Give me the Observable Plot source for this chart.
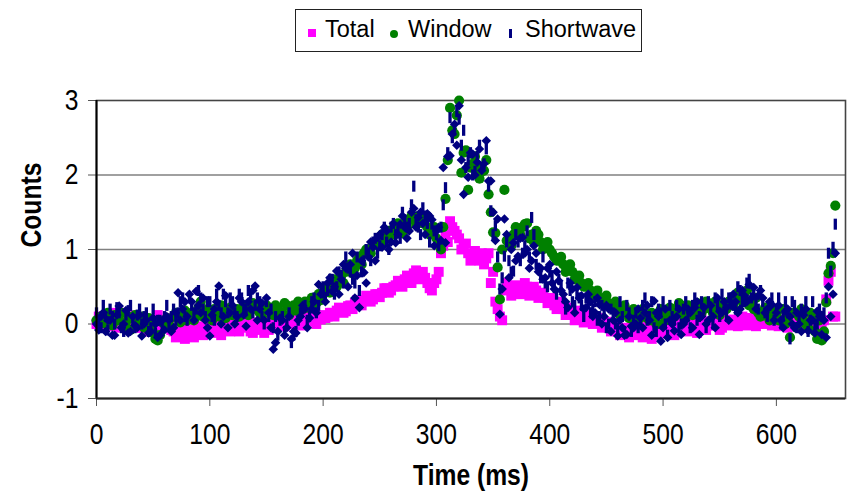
<!DOCTYPE html>
<html>
<head>
<meta charset="utf-8">
<script src="https://cdn.jsdelivr.net/npm/d3@7"></script>
<script src="https://cdn.jsdelivr.net/npm/@observablehq/plot@0.6"></script>
<style>
  html, body { margin: 0; padding: 0; background: #fff; }
  #chart { position: relative; width: 848px; height: 494px; font-family: "Liberation Sans", Arial, sans-serif; }
  #chart svg { display: block; }
  #chart g[aria-label="x-axis tick"], #chart g[aria-label="y-axis tick"] { stroke: #555; }
  .legend-box { position: absolute; left: 295px; top: 9px; width: 347px; height: 43px; box-sizing: border-box; border: 1px solid #222; }
  .key { position: absolute; }
  .key-label { position: absolute; top: 17px; font-size: 23.5px; line-height: 24px; color: #000; white-space: nowrap; }
</style>
</head>
<body>
<div id="chart">
  <div class="legend-box"></div>
  <div class="key" style="left:308px;top:29px;width:8px;height:8px;background:#ff00ff;"></div>
  <div class="key-label" style="left:325px;">Total</div>
  <div class="key" style="left:390px;top:29.5px;width:8px;height:8px;border-radius:50%;background:#008000;"></div>
  <div class="key-label" style="left:408px;">Window</div>
  <div class="key" style="left:509px;top:29px;width:3px;height:9px;background:#000080;"></div>
  <div class="key-label" style="left:525px;">Shortwave</div>
</div>
<script>
// Sample times (ms): samples every 2 ms, stored as two interleaved grids
const time = d3.range(0, 653, 4);     // 0, 4, 8, ... 652
const timeMid = d3.range(2, 651, 4);  // 2, 6, 10, ... 650

// Total counts at `time`
const total = [
  0.0, 0.05, 0.02, -0.03, 0.05, 0.1, 0.08, 0.12, 0.05, 0.0,
  -0.05, 0.02, -0.08, -0.05, 0.0, 0.05, 0.08, -0.1, -0.15, -0.12,
  -0.15, -0.1, -0.12, -0.05, -0.08, -0.02, -0.1, 0.0, -0.05, -0.03,
  -0.08, 0.0, 0.03, -0.05, -0.1, -0.05, 0.0, -0.12, -0.08, 0.02,
  0.05, 0.0, 0.03, 0.06, 0.02, 0.05, 0.1, 0.04, 0.08, 0.1,
  0.12, 0.1, 0.15, 0.18, 0.2, 0.17, 0.25, 0.28, 0.3, 0.32,
  0.35, 0.33, 0.4, 0.42, 0.48, 0.45, 0.52, 0.55, 0.6, 0.62,
  0.68, 0.65, 0.7, 0.55, 0.45, 0.6, 0.95, 1.2, 1.38, 1.25,
  1.15, 1.05, 0.95, 0.9, 0.92, 0.95, 0.88, 0.55, 0.3, 0.1,
  0.45, 0.5, 0.42, 0.48, 0.45, 0.5, 0.42, 0.45, 0.38, 0.35,
  0.3, 0.25, 0.22, 0.2, 0.15, 0.12, 0.1, 0.08, 0.05, 0.08,
  0.02, 0.05, -0.02, -0.05, -0.08, -0.05, -0.12, -0.08, -0.1, -0.15,
  -0.1, -0.05, -0.12, -0.08, -0.15, -0.05, -0.1, -0.02, 0.0, -0.05,
  0.02, -0.08, -0.03, 0.0, -0.05, 0.03, -0.02, 0.05, -0.05, 0.02,
  0.0, 0.05, 0.02, 0.08, 0.03, 0.05, 0.0, 0.06, 0.02, -0.02,
  0.03, 0.0, 0.05, -0.02, 0.02, 0.05, 0.0, -0.03, 0.05, 0.02,
  0.02, 0.33, 0.7, 0.1
];
// Total counts at `timeMid`
const totalMid = [
  0.1, -0.02, 0.08, 0.15, -0.05, 0.02, 0.15, 0.0, 0.1, -0.05,
  0.08, -0.1, 0.0, 0.12, -0.05, -0.02, -0.08, -0.18, -0.05, -0.2,
  -0.08, -0.18, -0.03, -0.15, 0.02, -0.12, -0.05, -0.15, 0.03, -0.1,
  0.02, -0.1, -0.02, 0.05, -0.12, 0.02, -0.08, -0.03, 0.05, -0.02,
  0.08, -0.03, 0.08, 0.0, 0.1, -0.02, 0.03, 0.12, 0.0, 0.06,
  0.08, 0.15, 0.1, 0.22, 0.15, 0.24, 0.2, 0.32, 0.25, 0.38,
  0.3, 0.4, 0.36, 0.48, 0.42, 0.5, 0.58, 0.5, 0.65, 0.55,
  0.72, 0.6, 0.62, 0.48, 0.55, 0.7, 1.05, 1.1, 1.3, 1.2,
  1.0, 1.08, 0.85, 0.98, 0.85, 0.8, 0.95, 0.7, 0.2, 0.05,
  0.55, 0.38, 0.52, 0.4, 0.55, 0.38, 0.5, 0.35, 0.42, 0.28,
  0.35, 0.2, 0.3, 0.12, 0.22, 0.05, 0.18, 0.02, 0.12, 0.0,
  0.08, -0.05, 0.03, -0.1, 0.0, -0.15, -0.05, -0.18, -0.02, -0.12,
  -0.18, -0.02, -0.2, -0.1, -0.03, -0.12, -0.05, -0.15, -0.08, 0.02,
  -0.1, 0.03, -0.12, 0.06, -0.08, -0.02, 0.08, -0.08, 0.05, -0.02,
  0.06, -0.03, 0.1, -0.02, 0.08, -0.03, 0.1, 0.0, 0.06, 0.03,
  -0.03, 0.06, -0.05, 0.05, 0.0, -0.05, 0.06, 0.02, -0.02, 0.05,
  0.05, 0.58, 0.1
];

// Window counts at `time`
const windowCounts = [
  0.05, 0.1, 0.0, 0.08, 0.12, 0.05, -0.05, 0.1, 0.08, 0.02,
  0.1, 0.05, -0.02, -0.2, -0.15, 0.0, 0.05, 0.1, 0.08, 0.12,
  0.05, 0.15, 0.1, 0.3, 0.15, 0.12, 0.2, 0.1, 0.15, 0.18,
  0.12, 0.2, 0.15, 0.22, 0.18, 0.25, 0.15, 0.2, 0.22, 0.12,
  0.2, 0.15, 0.25, 0.2, 0.18, 0.22, 0.3, 0.25, 0.35, 0.4,
  0.4, 0.5, 0.55, 0.5, 0.65, 0.7, 0.8, 0.75, 0.9, 0.95,
  1.0, 1.05, 1.1, 1.2, 1.15, 1.25, 1.3, 1.28, 1.35, 1.4,
  1.4, 1.45, 1.35, 1.3, 1.25, 1.15, 1.0, 1.68, 2.9, 2.55,
  3.0, 2.3, 1.8, 2.15, 2.1, 2.05, 2.2, 1.5, 1.22, 0.33,
  1.8, 1.1, 1.2, 1.25, 1.3, 1.35, 1.2, 1.25, 1.1, 1.05,
  1.0, 0.9, 0.85, 0.8, 0.75, 0.7, 0.6, 0.55, 0.5, 0.45,
  0.4, 0.35, 0.3, 0.28, 0.22, 0.2, 0.15, 0.18, 0.12, 0.1,
  0.15, 0.1, 0.05, 0.12, 0.0, 0.15, 0.1, 0.2, 0.15, 0.25,
  0.18, 0.22, 0.15, 0.25, 0.2, 0.28, 0.15, 0.22, 0.25, 0.2,
  0.3, 0.35, 0.4, 0.32, 0.25, 0.2, 0.15, 0.12, 0.2, 0.1,
  0.12, 0.05, 0.0, -0.18, 0.15, 0.1, 0.05, -0.05, 0.1, -0.2,
  -0.22, 0.29, 0.78, 1.59
];
// Window counts at `timeMid`
const windowMid = [
  0.0, 0.12, 0.15, -0.02, 0.05, 0.15, 0.02, -0.08, 0.12, 0.05,
  -0.05, 0.08, -0.12, -0.22, 0.02, 0.08, -0.05, 0.15, 0.02, 0.18,
  0.12, 0.05, 0.22, 0.1, 0.2, 0.05, 0.15, 0.25, 0.08, 0.22,
  0.18, 0.1, 0.25, 0.12, 0.28, 0.2, 0.1, 0.25, 0.18, 0.25,
  0.15, 0.28, 0.12, 0.25, 0.3, 0.2, 0.22, 0.35, 0.28, 0.32,
  0.45, 0.42, 0.6, 0.58, 0.55, 0.75, 0.68, 0.85, 0.8, 1.0,
  0.95, 1.1, 1.05, 1.12, 1.25, 1.2, 1.35, 1.22, 1.3, 1.45,
  1.35, 1.4, 1.45, 1.2, 1.3, 1.1, 1.3, 2.2, 2.6, 2.8,
  2.03, 2.33, 2.1, 2.25, 1.95, 2.06, 1.74, 1.23, 0.76, 1.0,
  1.12, 1.05, 1.3, 1.2, 1.34, 1.15, 1.1, 1.2, 1.0, 1.1,
  0.95, 0.85, 0.9, 0.7, 0.8, 0.6, 0.65, 0.5, 0.55, 0.38,
  0.45, 0.3, 0.38, 0.22, 0.3, 0.12, 0.25, 0.08, 0.2, 0.05,
  0.2, 0.08, 0.15, 0.0, 0.2, 0.05, 0.22, 0.1, 0.28, 0.12,
  0.25, 0.12, 0.28, 0.15, 0.3, 0.2, 0.3, 0.12, 0.28, 0.3,
  0.25, 0.42, 0.3, 0.45, 0.3, 0.35, 0.1, 0.22, 0.05, 0.18,
  0.05, 0.2, 0.08, 0.15, -0.05, 0.2, 0.0, 0.15, -0.1, 0.05,
  -0.1, 0.68, 0.95
];

// Shortwave counts at `time`, diamond markers
const shortwaveDiamond = [
  0.0, 0.1, -0.1, 0.05, -0.15, 0.24, 0.0, -0.12, 0.1, -0.05,
  -0.16, 0.05, -0.1, 0.0, -0.15, -0.08, 0.05, -0.05, 0.42, 0.2,
  0.1, 0.3, 0.44, 0.15, 0.05, -0.16, 0.2, 0.51, 0.1, -0.05,
  0.25, 0.1, 0.3, -0.03, 0.2, 0.51, 0.2, 0.05, 0.15, -0.34,
  -0.1, 0.05, -0.05, -0.2, -0.12, 0.1, 0.2, 0.08, 0.3, 0.53,
  0.4, 0.55, 0.44, 0.71, 0.6, 0.75, 0.8, 0.35, 0.22, 0.69,
  0.9, 1.03, 1.16, 1.03, 1.25, 1.1, 1.09, 1.34, 1.3, 1.25,
  1.55, 1.43, 1.35, 1.48, 1.4, 1.25, 1.12, 1.09, 2.26, 2.68,
  2.93, 1.74, 1.97, 2.28, 2.17, 2.06, 2.46, 1.92, 1.12, 0.13,
  1.41, 0.62, 1.09, 0.91, 1.16, 1.0, 0.85, 0.95, 0.75, 0.62,
  0.8, 0.47, 0.58, 0.4, 0.22, 0.47, 0.49, 0.38, 0.22, 0.3,
  0.15, 0.26, 0.1, 0.2, 0.05, -0.16, -0.05, -0.14, -0.03, 0.0,
  0.08, 0.15, 0.05, 0.31, 0.1, -0.05, -0.18, 0.0, 0.1, -0.14,
  0.05, 0.15, 0.22, -0.14, 0.22, 0.05, 0.1, 0.35, 0.15, 0.22,
  0.25, 0.3, 0.2, 0.38, 0.53, 0.49, 0.38, 0.35, 0.2, 0.26,
  0.15, 0.05, 0.17, 0.1, -0.05, 0.0, 0.12, -0.09, 0.05, 0.17,
  -0.14, -0.18, 0.1, 0.95
];
// Shortwave counts at `timeMid`, diamond markers
const shortwaveDiamondMid = [
  -0.08, 0.15, 0.05, -0.15, 0.12, -0.05, 0.18, -0.1, -0.02, 0.12,
  0.0, -0.12, 0.08, -0.18, 0.05, 0.1, -0.1, 0.15, 0.05, 0.3,
  0.4, 0.05, 0.25, 0.35, -0.05, 0.12, 0.3, 0.0, 0.38, 0.15,
  0.0, 0.35, 0.12, 0.3, 0.45, 0.05, 0.28, 0.35, -0.05, -0.25,
  0.08, -0.15, 0.1, -0.1, 0.05, 0.25, -0.05, 0.2, 0.15, 0.4,
  0.3, 0.62, 0.5, 0.4, 0.8, 0.5, 0.95, 0.65, 0.85, 0.55,
  1.1, 0.85, 1.2, 1.3, 1.0, 1.35, 1.2, 1.45, 1.15, 1.5,
  1.3, 1.5, 1.2, 1.45, 1.05, 1.3, 2.1, 2.25, 2.55, 2.4,
  2.2, 2.1, 2.3, 2.0, 2.35, 2.15, 1.92, 1.5, 1.41, 0.47,
  1.2, 1.0, 0.85, 1.15, 0.95, 0.75, 1.05, 0.7, 0.6, 0.75,
  0.55, 0.7, 0.45, 0.3, 0.55, 0.15, 0.35, 0.2, 0.4, 0.1,
  0.35, 0.0, 0.25, -0.1, 0.15, 0.05, -0.15, 0.1, -0.05, 0.2,
  -0.05, 0.25, -0.15, 0.15, -0.23, 0.2, 0.05, -0.09, 0.2, 0.0,
  0.2, -0.05, 0.3, 0.1, 0.0, 0.25, -0.05, 0.17, 0.3, 0.05,
  0.4, 0.15, 0.45, 0.3, 0.35, 0.2, 0.45, 0.15, 0.3, 0.05,
  0.25, -0.05, 0.2, 0.0, 0.15, -0.1, 0.2, 0.05, -0.12, 0.1,
  0.05, 0.5, 0.4
];

// Shortwave counts at `time`, dash markers
const shortwave = [
  0.15, -0.05, 0.1, 0.2, 0.0, 0.15, -0.1, 0.18, 0.05, 0.12,
  0.0, 0.15, -0.05, -0.12, 0.05, 0.1, -0.02, 0.2, 0.15, 0.35,
  0.05, 0.25, 0.2, 0.35, 0.1, 0.3, 0.05, 0.25, 0.4, 0.15,
  0.3, 0.1, 0.35, 0.2, 0.4, 0.25, 0.3, 0.0, 0.1, -0.05,
  -0.15, 0.1, 0.0, -0.25, -0.1, 0.15, 0.25, 0.1, 0.35, 0.25,
  0.5, 0.45, 0.6, 0.5, 0.65, 0.9, 0.7, 0.55, 0.45, 0.85,
  0.95, 1.1, 0.95, 1.2, 1.1, 1.3, 1.2, 1.15, 1.4, 1.35,
  1.85, 1.3, 1.56, 1.35, 1.34, 1.2, 1.3, 1.83, 2.77, 2.6,
  2.75, 2.6, 2.2, 2.0, 2.25, 2.1, 2.35, 1.52, 1.32, 0.47,
  0.91, 0.85, 0.71, 1.1, 0.95, 1.25, 1.43, 0.8, 0.62, 0.55,
  0.7, 0.49, 0.6, 0.35, 0.55, 0.3, 0.4, 0.25, 0.35, 0.15,
  0.3, 0.1, 0.2, 0.0, 0.15, -0.05, 0.1, 0.25, -0.1, 0.15,
  0.0, 0.35, 0.1, -0.05, 0.2, 0.3, -0.15, 0.1, 0.25, 0.0,
  0.3, -0.05, 0.35, 0.1, 0.2, 0.3, 0.0, 0.25, 0.4, 0.1,
  0.35, 0.2, 0.45, 0.3, 0.6, 0.4, 0.2, 0.3, 0.1, 0.35,
  0.2, 0.0, 0.3, -0.2, 0.25, 0.05, 0.15, -0.1, 0.3, 0.0,
  0.1, 0.35, 0.71, 1.34
];
// Shortwave counts at `timeMid`, dash markers
const shortwaveMid = [
  0.05, 0.25, -0.08, 0.1, 0.22, -0.05, 0.12, 0.25, -0.05, 0.2,
  0.1, -0.1, 0.2, 0.05, -0.05, 0.25, 0.1, 0.05, 0.3, 0.1,
  0.35, 0.15, 0.45, 0.2, 0.3, 0.1, 0.4, 0.15, 0.3, 0.35,
  0.15, 0.4, 0.2, 0.45, 0.15, 0.35, 0.1, 0.3, 0.2, 0.1,
  0.05, -0.1, 0.15, -0.15, 0.05, 0.2, 0.05, 0.3, 0.15, 0.45,
  0.35, 0.6, 0.4, 0.7, 0.55, 0.75, 0.6, 0.9, 0.7, 1.0,
  0.85, 1.15, 1.05, 1.3, 1.0, 1.35, 1.25, 1.5, 1.3, 1.6,
  1.4, 1.2, 1.45, 1.1, 1.25, 1.05, 1.6, 2.3, 2.5, 2.85,
  2.4, 2.1, 2.3, 2.05, 2.4, 2.15, 1.85, 1.2, 0.9, 0.62,
  1.1, 0.7, 1.2, 0.85, 1.05, 0.9, 1.2, 0.75, 0.9, 0.5,
  0.65, 0.4, 0.5, 0.2, 0.45, 0.25, 0.35, 0.1, 0.3, 0.2,
  0.05, 0.25, -0.05, 0.2, 0.0, 0.3, -0.1, 0.15, 0.05, -0.05,
  0.25, 0.05, 0.3, -0.1, 0.15, 0.0, 0.25, 0.05, -0.05, 0.2,
  0.1, 0.25, 0.05, 0.3, -0.05, 0.2, 0.35, 0.1, 0.2, 0.35,
  0.25, 0.5, 0.3, 0.55, 0.35, 0.3, 0.45, 0.15, 0.25, 0.05,
  0.35, 0.1, 0.15, 0.3, -0.05, 0.2, 0.3, 0.05, -0.05, 0.2,
  0.15, 0.95, 1.03
];

const xTicks = [0, 100, 200, 300, 400, 500, 600];
const yTicks = [-1, 0, 1, 2, 3];
const gridValues = [0, 1, 2];

// One table per series, both sample grids merged in time order
const series = (a, b) =>
  time.map((t, i) => ({ t, v: a[i] }))
    .concat(timeMid.map((t, i) => ({ t, v: b[i] })))
    .sort((p, q) => p.t - q.t);

const totalRows = series(total, totalMid);
const windowRows = series(windowCounts, windowMid);
const diamondRows = series(shortwaveDiamond, shortwaveDiamondMid);
const shortwaveRows = series(shortwave, shortwaveMid);

// Narrow vertical bar marker
const dashSymbol = {
  draw(context, size) {
    const r = Math.sqrt(size / Math.PI);
    context.rect(-r * 0.3, -r, r * 0.6, r * 2);
  }
};

const chart = Plot.plot({
  width: 848,
  height: 494,
  marginLeft: 96,
  marginRight: 3,
  marginTop: 100,
  marginBottom: 96,
  style: { fontFamily: "'Liberation Sans', Arial, sans-serif", fontSize: "29px", color: "#000", background: "#fff" },
  x: { domain: [0, 661], ticks: xTicks, tickSize: 8, tickPadding: 17, tickFormat: d => String(d), label: null },
  y: { domain: [-1, 3], ticks: yTicks, tickSize: 8, tickPadding: 10, tickFormat: d => String(d), label: null },
  marks: [
    Plot.ruleY(gridValues, { stroke: "#808080", strokeWidth: 1.6 }),
    Plot.frame({ stroke: "#444", strokeWidth: 1.6 }),
    Plot.dot(totalRows, { x: "t", y: "v", symbol: "square", r: 5.6, fill: "#ff00ff", stroke: "none" }),
    Plot.dot(windowRows, { x: "t", y: "v", symbol: "circle", r: 5.1, fill: "#008000", stroke: "none" }),
    Plot.dot(diamondRows, { x: "t", y: "v", symbol: "diamond2", r: 4.3, fill: "#000080", stroke: "none" }),
    Plot.dot(shortwaveRows, { x: "t", y: "v", symbol: dashSymbol, r: 5.5, fill: "#000080", stroke: "none" }),
    Plot.ruleX([0], { stroke: "#000", strokeWidth: 2 }),
    Plot.ruleY([-1], { stroke: "#222", strokeWidth: 2 }),
    Plot.text(["Time (ms)"], { frameAnchor: "bottom", dy: 86, fontWeight: "bold", fontSize: 29, fill: "#000" }),
    Plot.text(["Counts"], { frameAnchor: "left", dx: -65, dy: -2, rotate: -90, fontWeight: "bold", fontSize: 29, fill: "#000" })
  ]
});

document.getElementById("chart").prepend(chart);

// Set the SVG text in a slightly condensed width
chart.querySelectorAll("text").forEach(el => {
  const tr = el.getAttribute("transform");
  if (tr) {
    el.setAttribute("transform", tr + " scale(0.85,1)");
  } else {
    const x = +(el.getAttribute("x") || 0);
    el.setAttribute("transform", `translate(${x},0) scale(0.85,1) translate(${-x},0)`);
  }
});
</script>
</body>
</html>
